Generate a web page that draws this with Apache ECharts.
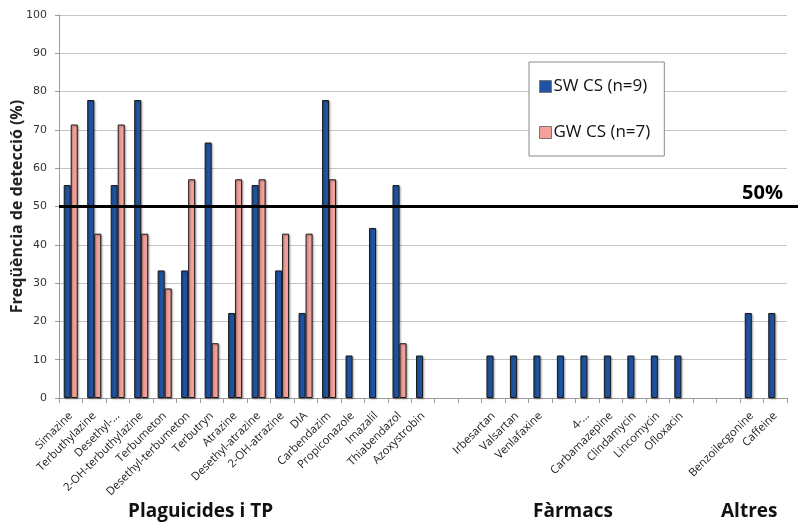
<!DOCTYPE html>
<html>
<head>
<meta charset="utf-8">
<script src="https://cdn.jsdelivr.net/npm/echarts@6/dist/echarts.min.js"></script>
<style>
html,body{margin:0;padding:0;background:#fff;}
#chart{width:798px;height:525px;}
</style>
</head>
<body>
<div id="chart"></div>
<script>
var categories = ['Simazine','Terbuthylazine','Desethyl-...','2-OH-terbuthylazine','Terbumeton','Desethyl-terbumeton','Terbutryn','Atrazine','Desethyl-atrazine','2-OH-atrazine','DIA','Carbendazim','Propiconazole','Imazalil','Thiabendazol','Azoxystrobin','','','Irbesartan','Valsartan','Venlafaxine','','4-...','Carbamazepine','Clindamycin','Lincomycin','Ofloxacin','','','Benzoilecgonine','Caffeine'];
var swValues = [55.6,77.8,55.6,77.8,33.3,33.3,66.7,22.2,55.6,33.3,22.2,77.8,11.1,44.4,55.6,11.1,null,null,11.1,11.1,11.1,11.1,11.1,11.1,11.1,11.1,11.1,null,null,22.2,22.2];
var gwValues = [71.4,42.9,71.4,42.9,28.6,57.1,14.3,57.1,57.1,42.9,42.9,57.1,null,null,14.3,null,null,null,null,null,null,null,null,null,null,null,null,null,null,null,null];
var seriesNames = ['SW CS (n=9)','GW CS (n=7)'];
var thresholdValue = 50;
var thresholdLabel = '50%';
var yTitle = 'Freqüència de detecció (%)';
var groupLabels = ['Plaguicides i TP','Fàrmacs','Altres'];

var chart = echarts.init(document.getElementById('chart'), null, {renderer:'canvas'});
var barStyle = function(color){
  return {color: color, borderColor:'#1a1a1a', borderWidth:1,
          shadowColor:'rgba(0,0,0,0.35)', shadowBlur:2, shadowOffsetX:1, shadowOffsetY:1};
};
var groupText = [
  {type:'text', left:128, top:502, style:{text:groupLabels[0], font:'bold 19px "Open Sans"', fill:'#111'}},
  {type:'text', left:533, top:502, style:{text:groupLabels[1], font:'bold 19px "Open Sans"', fill:'#111'}},
  {type:'text', left:721, top:502, style:{text:groupLabels[2], font:'bold 19px "Open Sans"', fill:'#111'}}
];
var option = {
  animation:false,
  backgroundColor:'#fff',
  grid:{left:59, right:11, top:15, bottom:127, containLabel:false, outerBoundsMode:'none'},
  legend:{
    orient:'vertical', left:529, top:62, padding:[16,14,15,10], itemGap:29,
    borderColor:'#8a8a8a', borderWidth:1, backgroundColor:'#fff',
    itemWidth:12, itemHeight:12, icon:'rect',
    itemStyle:{borderColor:'#777', borderWidth:1},
    textStyle:{fontFamily:'Open Sans', fontSize:17, color:'#111', padding:[0,0,0,-3]},
    data:seriesNames
  },
  xAxis:{
    type:'category', data:categories, boundaryGap:true,
    axisLine:{lineStyle:{color:'#9a9a9a', width:1}},
    axisTick:{show:true, length:5, lineStyle:{color:'#9a9a9a'}, interval:0},
    axisLabel:{interval:0, rotate:45, margin:16, fontFamily:'Open Sans', fontSize:11.3, color:'#222'}
  },
  yAxis:{
    type:'value', min:0, max:100, interval:10,
    name:yTitle, nameLocation:'middle', nameGap:34, nameRotate:90, nameMoveOverlap:false,
    nameTextStyle:{fontFamily:'Open Sans', fontWeight:'bold', fontSize:16, color:'#222'},
    axisLine:{show:true, lineStyle:{color:'#9a9a9a'}},
    axisTick:{show:true, length:4, lineStyle:{color:'#9a9a9a'}},
    axisLabel:{fontFamily:'DejaVu Sans', fontSize:11, color:'#333', margin:12},
    splitLine:{lineStyle:{color:'#c4c4c4', width:1}}
  },
  series:[
    {name:seriesNames[0], type:'bar', data:swValues, barWidth:7, barGap:'0%',
     itemStyle:barStyle('#2054a3')},
    {name:seriesNames[1], type:'bar', data:gwValues, barWidth:7,
     itemStyle:barStyle('#f4a09b')}
  ],
  graphic:groupText
};
chart.setOption(option);

// 50% threshold line, positioned through the y-axis scale
var yPx = chart.convertToPixel({yAxisIndex:0}, thresholdValue);
var gridRect = chart.getModel().getComponent('grid', 0).coordinateSystem.getRect();
chart.setOption({graphic:groupText.concat([
  {type:'line', z:10, shape:{x1:gridRect.x, y1:yPx, x2:798, y2:yPx}, style:{stroke:'#000', lineWidth:3}},
  {type:'text', z:10, x:783, y:yPx-3, style:{text:thresholdLabel, font:'bold 20px "Open Sans"', fill:'#000', align:'right', verticalAlign:'bottom'}}
])}, {replaceMerge:['graphic']});
</script>
</body>
</html>
